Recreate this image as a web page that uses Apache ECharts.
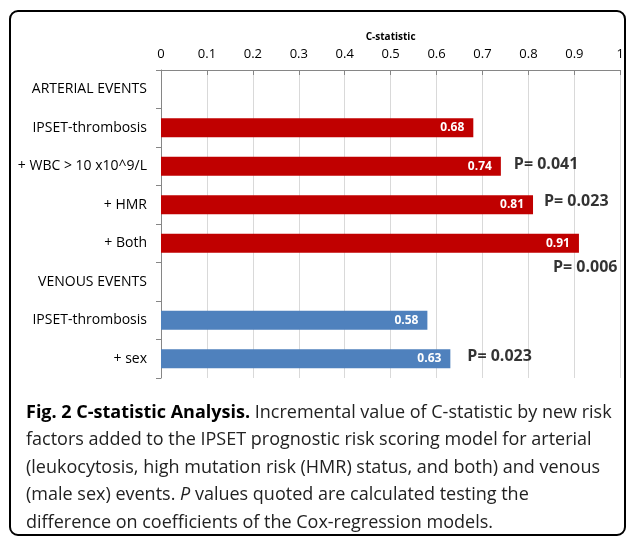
<!DOCTYPE html>
<html>
    <head>
        <meta charset='utf-8'>
        <script src="https://cdn.jsdelivr.net/npm/echarts@6/dist/echarts.min.js"></script>
    </head>
    <body style="margin:0">
        <style>
            html, body, #main {
                width: 100%;
                height: 100%;
                background: #fff;
            }
        </style>
        <div id="main"></div>
        <script>
            var categories = ['ARTERIAL EVENTS', 'IPSET-thrombosis', '+ WBC > 10 x10^9/L', '+ HMR', '+ Both',
                'VENOUS EVENTS', 'IPSET-thrombosis', '+ sex'];
            var cStat = [null, 0.68, 0.74, 0.81, 0.91, null, 0.58, 0.63];
            var groups = ['arterial', 'arterial', 'arterial', 'arterial', 'arterial', 'venous', 'venous', 'venous'];
            var pValues = [null, null, '0.041', '0.023', '0.006', null, null, '0.023'];

            var groupColor = { arterial: '#C00000', venous: '#4F81BD' };
            // where each P label sits relative to the end of its bar
            var pOffset = { 2: [13, -2], 3: [11, -3], 4: [-26, 24], 7: [17, -2] };

            var font = '"Open Sans", sans-serif';

            var caption = '{b|Fig. 2 C-statistic Analysis.} Incremental value of C-statistic by new risk\n' +
                'factors added to the IPSET prognostic risk scoring model for arterial\n' +
                '(leukocytosis, high mutation risk (HMR) status, and both) and venous\n' +
                '(male sex) events. {i|P} values quoted are calculated testing the\n' +
                'difference on coefficients of the Cox-regression models.';

            var chart = echarts.init(document.getElementById('main'));

            var barData = cStat.map(function (v, i) {
                return { value: v, itemStyle: { color: groupColor[groups[i]] } };
            });

            var pData = [];
            pValues.forEach(function (p, i) {
                if (p === null) return;
                pData.push({
                    value: [cStat[i], i],
                    label: { formatter: 'P= ' + p, offset: pOffset[i] }
                });
            });

            chart.setOption({
                animation: false,
                textStyle: { fontFamily: font },
                grid: { left: 161, right: 5, top: 70, bottom: 159 },
                xAxis: {
                    type: 'value',
                    position: 'top',
                    min: 0,
                    max: 1,
                    interval: 0.1,
                    name: 'C-statistic',
                    nameLocation: 'middle',
                    nameGap: 28,
                    nameTextStyle: { fontSize: 10, fontWeight: 'bold', color: '#000' },
                    axisLine: { show: true, lineStyle: { color: '#868686', width: 1 } },
                    axisTick: { show: true, inside: true, length: 5, lineStyle: { color: '#868686' } },
                    axisLabel: {
                        fontSize: 13, color: '#000', margin: 9,
                        formatter: function (v) { return String(+v.toFixed(1)); }
                    },
                    splitLine: { show: true, lineStyle: { color: '#d9d9d9' } }
                },
                yAxis: {
                    type: 'category',
                    inverse: true,
                    data: categories,
                    axisLine: { show: true, lineStyle: { color: '#868686', width: 1 } },
                    axisTick: { show: true, length: 5, lineStyle: { color: '#868686' } },
                    axisLabel: { fontSize: 14, color: '#000', margin: 14 }
                },
                series: [{
                    type: 'bar',
                    barWidth: 19,
                    data: barData,
                    label: {
                        show: true,
                        position: 'insideRight',
                        distance: 9,
                        color: '#fff',
                        fontWeight: 'bold',
                        fontSize: 12,
                        formatter: function (p) { return p.value.toFixed(2); }
                    }
                }, {
                    type: 'scatter',
                    symbolSize: 0,
                    data: pData,
                    label: {
                        show: true,
                        position: 'right',
                        distance: 0,
                        color: '#000',
                        fontWeight: 'bold',
                        fontSize: 16
                    }
                }],
                graphic: [{
                    type: 'rect',
                    shape: { x: 10, y: 11, width: 615, height: 524, r: 8 },
                    style: { fill: 'none', stroke: '#000', lineWidth: 2 }
                }, {
                    type: 'text',
                    x: 26,
                    y: 399,
                    style: {
                        text: caption,
                        fontFamily: font,
                        fontSize: 18,
                        lineHeight: 27.5,
                        fill: '#222',
                        rich: {
                            b: { fontWeight: 'bold', fontSize: 18, fontFamily: font, lineHeight: 27.5, fill: '#000' },
                            i: { fontStyle: 'italic', fontSize: 18, fontFamily: font, lineHeight: 27.5 }
                        }
                    }
                }]
            });
        </script>
    </body>
</html>
